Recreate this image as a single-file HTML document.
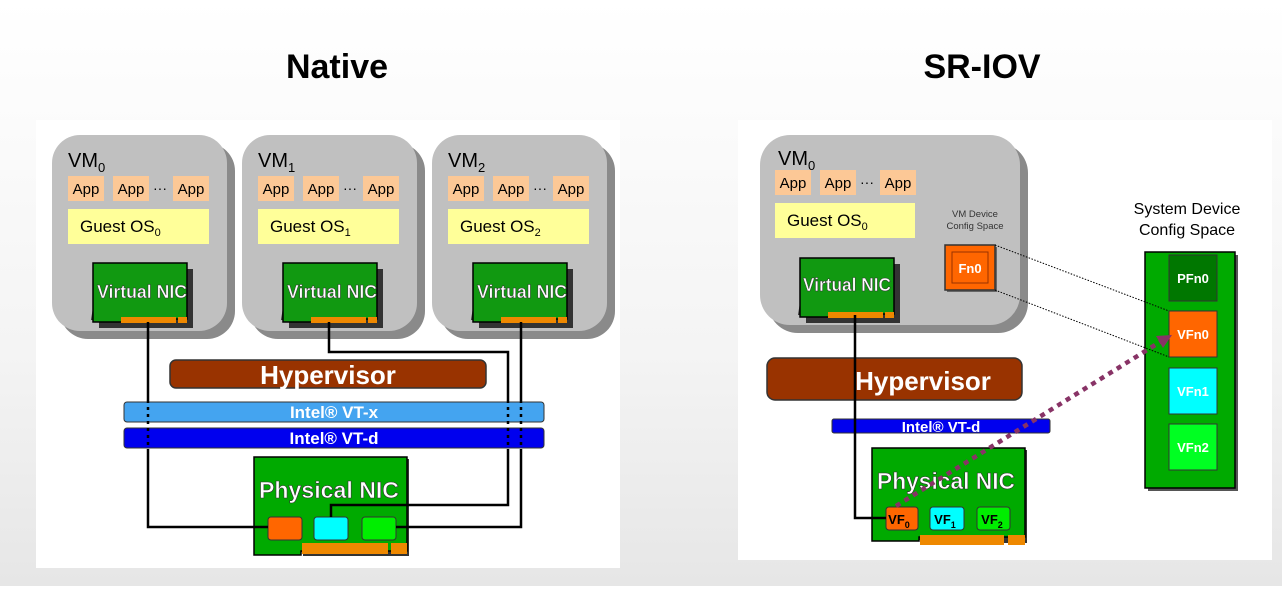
<!DOCTYPE html>
<html><head><style>
html,body{margin:0;padding:0}
body{width:1282px;height:586px;background:linear-gradient(#ffffff 0%,#f4f4f4 60%,#e6e6e6 100%);font-family:"Liberation Sans",sans-serif;overflow:hidden}
</style></head><body>
<svg width="1282" height="586" viewBox="0 0 1282 586" xmlns="http://www.w3.org/2000/svg" font-family="Liberation Sans, sans-serif">
<defs>
<g id="vm">
  <rect x="8" y="8" width="175" height="196" rx="28" fill="#8a8a8a"/>
  <rect x="0" y="0" width="175" height="196" rx="28" fill="#c0c0c0"/>
</g>
<g id="vnic">
  <path d="M4,4 h94 v59 h-94 v-8 h-8 z" fill="#333" transform="translate(2,2)"/>
  <path d="M0,0 h94 v56 h-64 v3 h-30 z" fill="#119911" stroke="#000" stroke-width="1.5"/>
  <rect x="28" y="54" width="55" height="6" fill="#ee8800"/>
  <rect x="85" y="54" width="9" height="6" fill="#ee8800"/>
</g>
</defs>

<text x="337" y="78" font-size="34" font-weight="bold" text-anchor="middle" fill="#000">Native</text>
<text x="982" y="78" font-size="34" font-weight="bold" text-anchor="middle" fill="#000">SR-IOV</text>

<rect x="36" y="120" width="584" height="448" fill="#fff"/>
<rect x="738" y="120" width="534" height="440" fill="#fff"/>

<g transform="translate(52,135)"><use href="#vm"/></g>
<g transform="translate(242,135)"><use href="#vm"/></g>
<g transform="translate(432,135)"><use href="#vm"/></g>

<g>
<text x="68" y="167" font-size="20">VM<tspan font-size="13" dy="5">0</tspan></text>
<rect x="68" y="176" width="36" height="25" fill="#fcc896"/><text x="86" y="194" font-size="15" text-anchor="middle">App</text>
<rect x="113" y="176" width="36" height="25" fill="#fcc896"/><text x="131" y="194" font-size="15" text-anchor="middle">App</text>
<text x="160" y="193" font-size="14" text-anchor="middle">···</text>
<rect x="173" y="176" width="36" height="25" fill="#fcc896"/><text x="191" y="194" font-size="15" text-anchor="middle">App</text>
<rect x="68" y="209" width="141" height="35" fill="#ffff99"/><text x="80" y="232" font-size="17">Guest OS<tspan font-size="11" dy="4">0</tspan></text>
<g transform="translate(93,263)"><use href="#vnic"/></g>
<text x="97" y="298" font-size="18" font-weight="bold" fill="#fff" stroke="#333" stroke-width="0.5" textLength="90" lengthAdjust="spacingAndGlyphs">Virtual NIC</text>
</g>
<g transform="translate(190,0)">
<text x="68" y="167" font-size="20">VM<tspan font-size="13" dy="5">1</tspan></text>
<rect x="68" y="176" width="36" height="25" fill="#fcc896"/><text x="86" y="194" font-size="15" text-anchor="middle">App</text>
<rect x="113" y="176" width="36" height="25" fill="#fcc896"/><text x="131" y="194" font-size="15" text-anchor="middle">App</text>
<text x="160" y="193" font-size="14" text-anchor="middle">···</text>
<rect x="173" y="176" width="36" height="25" fill="#fcc896"/><text x="191" y="194" font-size="15" text-anchor="middle">App</text>
<rect x="68" y="209" width="141" height="35" fill="#ffff99"/><text x="80" y="232" font-size="17">Guest OS<tspan font-size="11" dy="4">1</tspan></text>
<g transform="translate(93,263)"><use href="#vnic"/></g>
<text x="97" y="298" font-size="18" font-weight="bold" fill="#fff" stroke="#333" stroke-width="0.5" textLength="90" lengthAdjust="spacingAndGlyphs">Virtual NIC</text>
</g>
<g transform="translate(380,0)">
<text x="68" y="167" font-size="20">VM<tspan font-size="13" dy="5">2</tspan></text>
<rect x="68" y="176" width="36" height="25" fill="#fcc896"/><text x="86" y="194" font-size="15" text-anchor="middle">App</text>
<rect x="113" y="176" width="36" height="25" fill="#fcc896"/><text x="131" y="194" font-size="15" text-anchor="middle">App</text>
<text x="160" y="193" font-size="14" text-anchor="middle">···</text>
<rect x="173" y="176" width="36" height="25" fill="#fcc896"/><text x="191" y="194" font-size="15" text-anchor="middle">App</text>
<rect x="68" y="209" width="141" height="35" fill="#ffff99"/><text x="80" y="232" font-size="17">Guest OS<tspan font-size="11" dy="4">2</tspan></text>
<g transform="translate(93,263)"><use href="#vnic"/></g>
<text x="97" y="298" font-size="18" font-weight="bold" fill="#fff" stroke="#333" stroke-width="0.5" textLength="90" lengthAdjust="spacingAndGlyphs">Virtual NIC</text>
</g>

<rect x="170" y="360" width="316" height="28" rx="6" fill="#993300" stroke="#333" stroke-width="1.5"/>
<text x="328" y="384" font-size="26" font-weight="bold" fill="#fff" text-anchor="middle">Hypervisor</text>
<rect x="124" y="402" width="420" height="20" rx="3" fill="#44a4f0" stroke="#333" stroke-width="1"/>
<text x="334" y="418" font-size="17" font-weight="bold" fill="#fff" text-anchor="middle">Intel® VT-x</text>
<rect x="124" y="428" width="420" height="20" rx="3" fill="#0000ee" stroke="#333" stroke-width="1"/>
<text x="334" y="444" font-size="17" font-weight="bold" fill="#fff" text-anchor="middle">Intel® VT-d</text>

<path d="M256,459 h153 v97 h-106 v-4 h-45 z" fill="#333"/>
<path d="M254,457 h153 v94 h-106 v4 h-47 z" fill="#00aa00" stroke="#000" stroke-width="1.5"/>
<text x="259" y="498" font-size="23" font-weight="bold" fill="#fff" stroke="#333" stroke-width="0.6" textLength="140" lengthAdjust="spacingAndGlyphs">Physical NIC</text>
<rect x="268" y="517" width="34" height="23" rx="3" fill="#ff6600" stroke="#333"/>
<rect x="314" y="517" width="34" height="23" rx="3" fill="#00ffff" stroke="#333"/>
<rect x="362" y="517" width="34" height="23" rx="3" fill="#00ee00" stroke="#333"/>
<rect x="302" y="543" width="86" height="11" fill="#ee8800"/>
<rect x="391" y="543" width="16" height="11" fill="#ee8800"/>

<g fill="none" stroke="#000" stroke-width="2.5">
<path d="M148,322 V400 M148,450 V527 H268"/>
<path d="M329,322 V352 H508 V400 M508,450 V505 H331 V517"/>
<path d="M521,322 V400 M521,450 V527 H396"/>
</g>
<g fill="none" stroke="#000" stroke-width="2.5" stroke-dasharray="3,4">
<path d="M148,400 V450 M508,400 V450 M521,400 V450"/>
</g>

<!-- SR-IOV -->
<rect x="768" y="143" width="260" height="190" rx="30" fill="#8a8a8a"/>
<rect x="760" y="135" width="260" height="190" rx="30" fill="#c0c0c0"/>
<text x="778" y="165" font-size="20">VM<tspan font-size="13" dy="5">0</tspan></text>
<rect x="775" y="170" width="36" height="25" fill="#fcc896"/><text x="793" y="188" font-size="15" text-anchor="middle">App</text>
<rect x="820" y="170" width="36" height="25" fill="#fcc896"/><text x="838" y="188" font-size="15" text-anchor="middle">App</text>
<text x="867" y="187" font-size="14" text-anchor="middle">···</text>
<rect x="880" y="170" width="36" height="25" fill="#fcc896"/><text x="898" y="188" font-size="15" text-anchor="middle">App</text>
<rect x="775" y="203" width="140" height="35" fill="#ffff99"/><text x="787" y="226" font-size="17">Guest OS<tspan font-size="11" dy="4">0</tspan></text>
<g transform="translate(800,258)"><use href="#vnic"/></g>
<text x="803" y="291" font-size="18" font-weight="bold" fill="#fff" stroke="#333" stroke-width="0.5" textLength="88" lengthAdjust="spacingAndGlyphs">Virtual NIC</text>
<text x="975" y="217" font-size="9.5" text-anchor="middle" fill="#333">VM Device</text>
<text x="975" y="229" font-size="9.5" text-anchor="middle" fill="#333">Config Space</text>
<rect x="947" y="247" width="50" height="45" fill="#666"/>
<rect x="945" y="245" width="50" height="45" fill="#ff6600" stroke="#333" stroke-width="1.5"/>
<rect x="952" y="252" width="36" height="31" fill="none" stroke="#993300" stroke-width="1"/>
<text x="970" y="273" font-size="13" font-weight="bold" fill="#fff" text-anchor="middle">Fn0</text>

<text x="1187" y="214" font-size="16" text-anchor="middle">System Device</text>
<text x="1187" y="235" font-size="16" text-anchor="middle">Config Space</text>
<rect x="1148" y="255" width="90" height="236" fill="#555"/>
<rect x="1145" y="252" width="90" height="236" fill="#00aa00" stroke="#000" stroke-width="1.5"/>
<rect x="1169" y="255" width="48" height="46" fill="#007700" stroke="#333"/>
<text x="1193" y="283" font-size="13" font-weight="bold" fill="#fff" text-anchor="middle">PFn0</text>
<rect x="1169" y="311" width="48" height="46" fill="#ff6600" stroke="#333"/>
<text x="1193" y="339" font-size="13" font-weight="bold" fill="#fff" text-anchor="middle">VFn0</text>
<rect x="1169" y="368" width="48" height="46" fill="#00ffff" stroke="#333"/>
<text x="1193" y="396" font-size="13" font-weight="bold" fill="#fff" text-anchor="middle">VFn1</text>
<rect x="1169" y="424" width="48" height="46" fill="#00ff22" stroke="#333"/>
<text x="1193" y="452" font-size="13" font-weight="bold" fill="#fff" text-anchor="middle">VFn2</text>

<g stroke="#000" stroke-width="1" stroke-dasharray="1.5,1.5">
<line x1="995" y1="245" x2="1169" y2="311"/>
<line x1="995" y1="290" x2="1169" y2="357"/>
</g>

<rect x="767" y="358" width="255" height="42" rx="8" fill="#993300" stroke="#333" stroke-width="1.5"/>
<text x="923" y="390" font-size="26" font-weight="bold" fill="#fff" text-anchor="middle">Hypervisor</text>
<rect x="832" y="419" width="218" height="14" rx="2" fill="#0000ee" stroke="#333" stroke-width="1"/>
<text x="941" y="432" font-size="15" font-weight="bold" fill="#fff" text-anchor="middle">Intel® VT-d</text>

<path d="M874,450 h153 v93 h-106 v-3 h-45 z" fill="#333"/>
<path d="M872,448 h153 v89 h-106 v4 h-47 z" fill="#00aa00" stroke="#000" stroke-width="1.5"/>
<text x="877" y="489" font-size="23" font-weight="bold" fill="#fff" stroke="#333" stroke-width="0.6" textLength="138" lengthAdjust="spacingAndGlyphs">Physical NIC</text>
<rect x="886" y="507" width="32" height="23" rx="3" fill="#ff6600" stroke="#333"/>
<text x="899" y="524" font-size="13" font-weight="bold" text-anchor="middle">VF<tspan font-size="9" dy="4">0</tspan></text>
<rect x="930" y="507" width="34" height="23" rx="3" fill="#00ffff" stroke="#333"/>
<text x="945" y="524" font-size="13" font-weight="bold" text-anchor="middle">VF<tspan font-size="9" dy="4">1</tspan></text>
<rect x="977" y="507" width="33" height="23" rx="3" fill="#00ee00" stroke="#333"/>
<text x="992" y="524" font-size="13" font-weight="bold" text-anchor="middle">VF<tspan font-size="9" dy="4">2</tspan></text>
<rect x="920" y="535" width="84" height="10" fill="#ee8800"/>
<rect x="1008" y="535" width="17" height="10" fill="#ee8800"/>

<path d="M855,315 V518 H886" fill="none" stroke="#000" stroke-width="2.5"/>
<line x1="896" y1="506" x2="1160" y2="342" stroke="#883366" stroke-width="4.5" stroke-dasharray="5,5"/>
<path d="M1172,335 L1156,336 L1163,348 Z" fill="#883366"/>
</svg>
</body></html>
